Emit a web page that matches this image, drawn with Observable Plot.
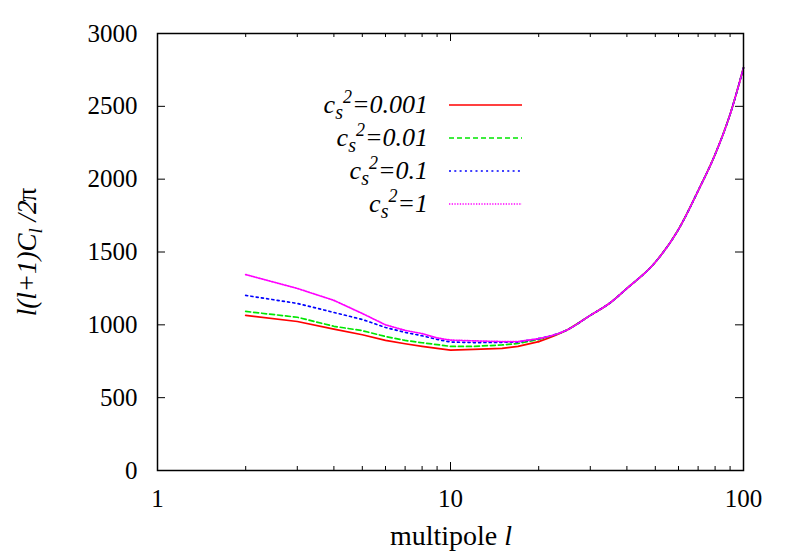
<!DOCTYPE html>
<html><head><meta charset="utf-8">
<script src="https://cdn.jsdelivr.net/npm/d3@7"></script>
<script src="https://cdn.jsdelivr.net/npm/@observablehq/plot@0.6"></script>
<style>
body{margin:0;background:#fff}
#chart{width:790px;height:553px}
</style>
</head><body><div id="chart"></div>
<script>
// multipole l where the four curves differ
const lowL = [2, 3, 4, 5, 6, 7, 8, 9, 10, 12, 15, 17, 20];
const cs2_0001 = [1065, 1023, 970, 932, 893, 870, 852, 838, 826, 832, 838, 852, 885];
const cs2_001  = [1092, 1052, 990, 960, 920, 893, 877, 864, 852, 852, 862, 872, 900];
const cs2_01   = [1202, 1147, 1085, 1037, 982, 948, 925, 900, 882, 878, 880, 882, 905];
const cs2_1    = [1345, 1250, 1168, 1078, 1000, 962, 940, 910, 895, 890, 885, 885, 905];
// multipole l where the curves coincide
const highL = [20, 25, 30, 35, 40, 50, 60, 70, 80, 90, 100];
const highVals = [900, 965, 1065, 1150, 1250, 1430, 1655, 1920, 2170, 2445, 2765];

const legendValues = ["0.001", "0.01", "0.1", "1"];
const seriesLow = [cs2_0001, cs2_001, cs2_01, cs2_1];
const colors = ["#ff0000", "#00e600", "#0000ff", "#ff00ff"];
const dashes = [null, "5,3", "2,3.3", "1.3,1.4"];

const yTicks = [0, 500, 1000, 1500, 2000, 2500, 3000];
const xMajor = [1, 10, 100];
const xMinor = [2, 3, 4, 5, 6, 7, 8, 9, 20, 30, 40, 50, 60, 70, 80, 90];

const W = 790, H = 553, mL = 157, mR = 47, mT = 33, mB = 83;
const fw = W - mL - mR, fh = H - mT - mB;
const major = 8, minor = 4;

const lowRows = seriesLow.map(arr => lowL.map((l, j) => ({l, v: arr[j]})));
const highRows = seriesLow.map(arr =>
  [{l: lowL[lowL.length - 1], v: arr[arr.length - 1]}].concat(highL.slice(1).map((l, j) => ({l, v: highVals[j + 1]})))
);

const font = "'Liberation Serif', 'Times New Roman', serif";

const marks = [];
seriesLow.forEach((_, i) => {
  const common = {x: "l", y: "v", stroke: colors[i], strokeWidth: 1.7, strokeDasharray: dashes[i]};
  marks.push(Plot.line(lowRows[i], {...common, curve: "linear"}));
  marks.push(Plot.line(highRows[i], {...common, curve: "monotone-x"}));
});
marks.push(
  Plot.tickY(yTicks, {y: d => d, insetRight: fw - major, stroke: "black", strokeWidth: 1}),
  Plot.tickY(yTicks, {y: d => d, insetLeft: fw - major, stroke: "black", strokeWidth: 1}),
  Plot.tickX(xMajor, {x: d => d, insetTop: fh - major, stroke: "black", strokeWidth: 1}),
  Plot.tickX(xMajor, {x: d => d, insetBottom: fh - major, stroke: "black", strokeWidth: 1}),
  Plot.tickX(xMinor, {x: d => d, insetTop: fh - minor, stroke: "black", strokeWidth: 1}),
  Plot.tickX(xMinor, {x: d => d, insetBottom: fh - minor, stroke: "black", strokeWidth: 1}),
  Plot.axisY(yTicks, {tickSize: 0, tickPadding: 20, label: null, tickFormat: d => String(d),
    fontSize: 25, fontFamily: font, fill: "black"}),
  Plot.axisX(xMajor, {tickSize: 0, tickPadding: 19, label: null, tickFormat: d => String(d),
    fontSize: 25, fontFamily: font, fill: "black"}),
  Plot.frame({stroke: "black", strokeWidth: 1.5})
);

const svgEl = Plot.plot({
  width: W, height: H,
  marginLeft: mL, marginRight: mR, marginTop: mT, marginBottom: mB,
  x: {type: "log", domain: [1, 100]},
  y: {domain: [0, 3000]},
  style: {fontFamily: font, fontSize: "25px", color: "black", background: "white"},
  marks
});
document.getElementById("chart").appendChild(svgEl);

const svg = d3.select(svgEl);

// Legend (inside frame, top)
const legend = svg.append("g").attr("font-family", font).attr("font-size", 26).attr("font-style", "italic");
const rowY = [105, 138, 171, 204];
legendValues.forEach((val, i) => {
  const y = rowY[i];
  const t = legend.append("text").attr("x", 428).attr("y", y + 8).attr("text-anchor", "end");
  t.append("tspan").text("c");
  t.append("tspan").attr("font-size", 20).attr("dy", 6).text("s");
  t.append("tspan").attr("font-size", 18).attr("dy", -16).text("2");
  t.append("tspan").attr("dy", 10).text("=" + val);
  legend.append("line").attr("x1", 449).attr("x2", 522).attr("y1", y).attr("y2", y)
    .attr("stroke", colors[i]).attr("stroke-width", 1.7)
    .attr("stroke-dasharray", dashes[i]);
});

// Y-axis label
const yl = svg.append("text")
  .attr("transform", "translate(36,252) rotate(-90)")
  .attr("text-anchor", "middle").attr("font-family", font).attr("font-size", 27);
yl.append("tspan").attr("font-style", "italic").text("l(l+1)C");
yl.append("tspan").attr("font-style", "italic").attr("font-size", 19).attr("dy", 6).text("l");
yl.append("tspan").attr("dy", -6).attr("font-style", "italic").text(" /2");
yl.append("tspan").attr("dx", -1).text("π");

// X-axis label
const xl = svg.append("text").attr("x", 451).attr("y", 545)
  .attr("text-anchor", "middle").attr("font-family", font).attr("font-size", 28);
xl.append("tspan").text("multipole ");
xl.append("tspan").attr("font-style", "italic").text("l");
</script>
</body></html>
